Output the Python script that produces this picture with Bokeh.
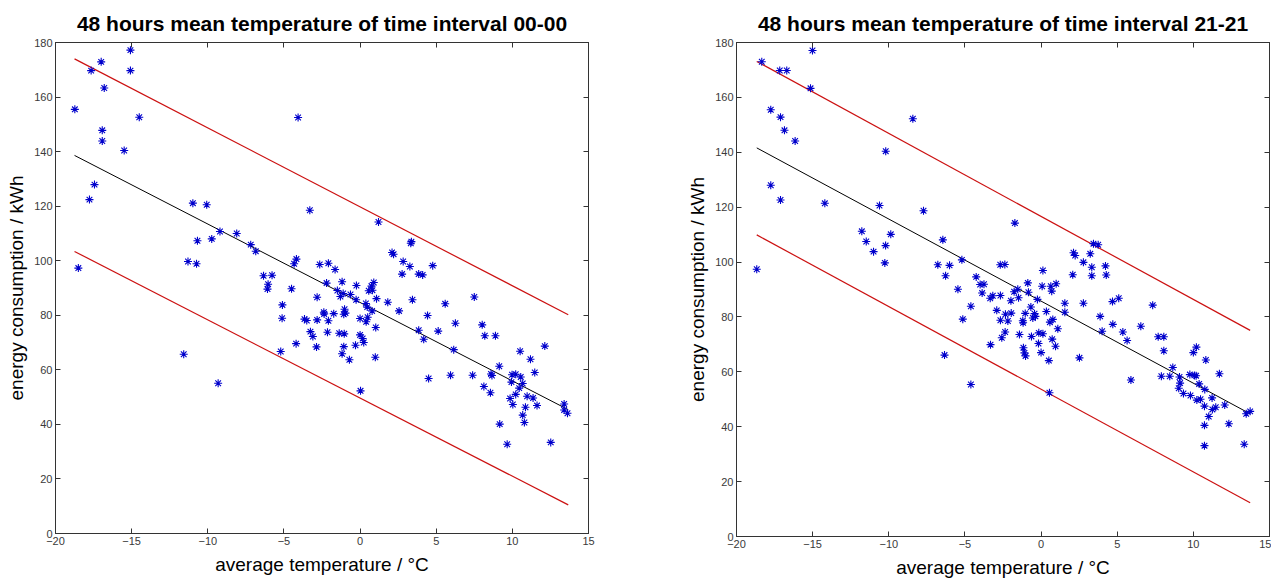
from bokeh.plotting import figure
from bokeh.models import LinearAxis, FixedTicker, Range1d
from bokeh.layouts import row
from bokeh.embed import file_html
from bokeh.resources import INLINE

# ---------------- data: 48 h mean temperature, interval 00-00 ----------------
temp_00 = [-18.73, -18.5, -17.66, -17.0, -16.8, -16.93, -16.93, -17.44, -17.77, -15.08,
           -15.08, -15.49, -14.5, -10.98, -10.07, -9.2, -8.1, -7.18, -6.85, -9.74,
           -10.68, -11.3, -10.74, -4.07, -3.3, -6.34, -5.78, -6.04, -6.08, -4.5,
           -4.33, -4.18, -2.65, -11.58, -9.32, -5.1, -5.12, -5.21, -4.2, -3.65,
           -3.5, -3.26, -3.1, -2.82, -2.82, -2.86, 1.21, 2.1, 2.2, 3.33,
           3.37, 2.83, 3.27, 2.76, 3.44, -2.08, -1.64, -2.2, -1.18, -0.24,
           0.9, 0.75, 0.81, 0.57, -1.49, -1.11, -1.29, -0.63, -0.26, 1.08,
           0.38, 0.47, 1.82, 0.79, 2.56, -2.38, -2.36, -1.73, -1.02, -0.96,
           -1.07, -2.08, 0.0, 0.5, 0.4, 1.03, -2.14, -1.37, -1.04, 0.0,
           0.17, 0.24, -1.07, -0.3, -1.18, -0.7, 1.0, 0.03, 3.85, 4.11,
           4.77, 4.43, 5.59, 7.5, 3.85, 4.18, 5.13, 6.26, 8.02, 8.19,
           8.89, 6.15, 4.5, 5.94, 7.39, 8.6, 8.66, 9.14, 8.13, 8.56,
           10.51, 11.19, 12.13, 11.47, 9.98, 10.22, 10.55, 9.94, 10.68, 10.45,
           10.22, 10.97, 11.36, 9.85, 10.03, 10.86, 11.62, 10.68, 10.79, 9.17,
           9.66, 12.52, 13.4, 13.4, 13.62]
energy_00 = [155.5, 97.3, 169.7, 172.9, 163.3, 147.8, 143.9, 127.9, 122.4, 177.2,
             169.7, 140.4, 152.6, 121.1, 120.5, 110.7, 110.0, 105.9, 103.5, 108.0,
             107.3, 99.7, 98.9, 152.5, 118.5, 94.5, 94.7, 91.4, 89.6, 89.7,
             98.9, 100.6, 98.6, 65.7, 55.1, 83.8, 78.9, 66.7, 69.6, 78.6,
             78.1, 74.0, 72.2, 78.3, 86.6, 68.4, 114.2, 103.0, 102.4, 106.4,
             107.0, 99.7, 97.9, 95.1, 85.7, 99.1, 96.8, 91.8, 92.3, 90.9,
             92.0, 90.7, 89.2, 89.0, 89.1, 88.0, 86.9, 87.6, 85.7, 86.1,
             84.3, 83.0, 84.8, 81.6, 81.6, 81.1, 80.5, 80.6, 82.2, 80.8,
             80.4, 78.0, 78.8, 79.3, 77.6, 75.5, 73.8, 73.4, 73.2, 72.8,
             71.5, 70.0, 68.5, 69.0, 65.9, 63.7, 64.6, 52.3, 95.1, 94.8,
             98.2, 79.9, 84.2, 86.7, 74.5, 71.2, 74.2, 77.1, 76.5, 72.5,
             72.5, 67.4, 56.8, 58.0, 58.0, 58.5, 57.9, 61.3, 53.9, 51.6,
             66.8, 63.9, 68.7, 59.0, 58.2, 58.4, 57.4, 55.5, 55.0, 53.3,
             51.0, 50.3, 49.7, 49.5, 47.3, 46.3, 46.9, 43.4, 40.7, 40.1,
             32.7, 33.4, 47.5, 45.3, 44.1]
fit_x_00 = [-18.75, 13.67]
fit_y_00 = [138.6, 45.4]
upper_y_00 = [174.0, 80.2]
lower_y_00 = [103.4, 10.5]

# ---------------- data: 48 h mean temperature, interval 21-21 ----------------
temp_21 = [-18.67, -18.34, -17.16, -16.7, -15.01, -15.14, -17.75, -17.11, -16.85, -16.15,
           -17.75, -17.11, -14.2, -8.42, -10.2, -10.61, -7.72, -11.77, -11.48, -11.0,
           -10.21, -9.87, -10.26, -6.45, -6.78, -6.01, -6.27, -5.2, -5.46, -4.26,
           -4.0, -3.75, -2.68, -6.34, -4.61, -4.61, -5.14, -3.32, -3.87, -3.34,
           -3.17, -2.67, -2.91, -2.67, -2.58, -1.72, -2.38, 0.12, -0.87, 0.07,
           0.64, 0.99, 0.7, -1.77, -1.53, -0.83, -1.48, -1.98, -0.24, 1.56,
           2.78, 2.08, 2.13, 2.24, 3.23, 2.78, 3.33, 3.33, -0.67, -2.34,
           -1.96, -1.04, -0.43, -0.37, 0.35, 1.56, -2.18, -1.2, -1.18, -0.54,
           0.58, 0.77, 1.1, -2.36, -1.42, -0.63, -0.15, 0.12, 0.73, -0.17,
           0.95, -1.16, -1.09, 0.0, -1.02, 0.51, 2.52, 0.55, 3.44, 3.75,
           4.23, 4.28, 4.69, 5.1, 3.88, 4.01, 4.71, 5.37, 5.65, 6.55,
           7.33, 7.69, 8.06, 8.06, 5.9, 7.9, 8.45, 8.65, 9.09, 9.13,
           9.04, 9.35, 9.81, 9.77, 10.07, 10.18, 10.0, 10.2, 10.82, 10.38,
           10.75, 10.23, 10.47, 10.73, 11.23, 11.25, 11.47, 11.71, 12.06, 11.01,
           10.73, 12.33, 10.73, 13.34, 13.47, 13.73]
energy_21 = [97.4, 173.0, 169.8, 169.8, 177.1, 163.3, 155.5, 152.8, 148.0, 144.1,
             128.0, 122.6, 121.4, 152.2, 140.4, 120.6, 118.7, 111.2, 107.5, 103.8,
             106.0, 110.1, 99.7, 108.1, 99.0, 98.8, 95.0, 100.8, 90.1, 94.6,
             91.8, 91.9, 99.0, 66.1, 55.4, 83.9, 79.2, 69.9, 88.7, 86.8,
             87.7, 87.8, 82.4, 78.8, 72.4, 114.2, 99.1, 96.9, 92.4, 91.2,
             91.2, 92.1, 89.4, 89.2, 90.1, 89.0, 87.0, 85.9, 86.4, 85.0,
             85.0, 95.4, 103.4, 102.4, 103.0, 99.9, 98.1, 95.0, 83.6, 81.0,
             81.4, 81.3, 81.2, 80.2, 82.0, 81.7, 78.5, 78.6, 77.9, 79.6,
             78.1, 79.1, 75.7, 74.5, 73.6, 72.9, 74.2, 73.9, 71.9, 70.3,
             69.3, 68.8, 66.9, 67.0, 65.8, 64.1, 65.1, 52.4, 106.7, 106.3,
             98.6, 95.3, 85.6, 86.8, 80.2, 74.8, 77.3, 74.5, 71.4, 76.6,
             84.3, 72.8, 72.8, 67.7, 57.0, 58.4, 58.4, 61.6, 58.1, 55.9,
             54.0, 52.1, 51.4, 59.0, 58.7, 58.6, 67.0, 69.0, 64.3, 55.6,
             53.6, 49.7, 50.0, 47.5, 50.5, 46.3, 47.1, 59.3, 47.9, 43.7,
             40.5, 41.1, 33.1, 33.6, 44.7, 45.6]
fit_x_21 = [-18.67, 13.73]
fit_y_21 = [141.6, 44.7]
upper_y_21 = [173.1, 75.1]
lower_y_21 = [109.9, 12.3]

x_ticks = [-20, -15, -10, -5, 0, 5, 10, 15]
y_ticks = [0, 20, 40, 60, 80, 100, 120, 140, 160, 180]
x_label = "average temperature / °C"
y_label = "energy consumption / kWh"

FONT = "Liberation Sans"
AX = "#333333"


def style_axis(ax, show_labels=True):
    ax.axis_line_color = AX
    ax.major_tick_line_color = AX
    ax.major_tick_in = 5
    ax.major_tick_out = 0
    ax.minor_tick_line_color = None
    ax.major_label_text_font = FONT
    ax.major_label_text_font_size = "11px"
    ax.major_label_text_color = "#3a3a3a" if show_labels else None
    ax.major_label_standoff = 3
    ax.axis_label_text_font = FONT
    ax.axis_label_text_font_size = "19px"
    ax.axis_label_text_font_style = "normal"
    ax.axis_label_text_color = "#000000"


def make_plot(title, xs, ys, fx, fy, uy, ly, fh, left, top, bottom, right, xstand):
    p = figure(frame_width=533, frame_height=fh,
               x_range=Range1d(-20, 15), y_range=Range1d(0, 180),
               output_backend="svg", toolbar_location=None,
               min_border_left=left, min_border_right=right,
               min_border_top=top, min_border_bottom=bottom,
               title=title)
    p.title.text_font = FONT
    p.title.text_font_size = "21px"
    p.title.text_font_style = "bold"
    p.title.align = "center"
    p.title.text_color = "#000000"
    p.title.standoff = 15
    p.xgrid.visible = False
    p.ygrid.visible = False
    p.outline_line_color = AX
    p.background_fill_color = "white"
    p.border_fill_color = "white"

    p.xaxis.ticker = FixedTicker(ticks=x_ticks)
    p.yaxis.ticker = FixedTicker(ticks=y_ticks)
    p.xaxis.axis_label = x_label
    p.yaxis.axis_label = y_label
    for ax in p.xaxis + p.yaxis:
        style_axis(ax)
    p.xaxis.axis_label_standoff = xstand
    p.yaxis.axis_label_standoff = 4

    top_ax = LinearAxis(ticker=FixedTicker(ticks=x_ticks))
    right_ax = LinearAxis(ticker=FixedTicker(ticks=y_ticks))
    style_axis(top_ax, False)
    style_axis(right_ax, False)
    top_ax.major_label_text_font_size = "1px"
    right_ax.major_label_text_font_size = "1px"
    top_ax.major_label_standoff = 0
    right_ax.major_label_standoff = 0
    p.add_layout(top_ax, "above")
    p.add_layout(right_ax, "right")

    p.line(fx, uy, line_color="#cc1111", line_width=1.2)
    p.line(fx, ly, line_color="#cc1111", line_width=1.2)
    p.line(fx, fy, line_color="#000000", line_width=1)
    p.scatter(xs, ys, marker="asterisk", size=8, line_color="#0000cc", line_width=1.1)
    return p


p1 = make_plot("48 hours mean temperature of time interval 00-00",
               temp_00, energy_00, fit_x_00, fit_y_00, upper_y_00, lower_y_00,
               491, 55, 41, 46, 96, 6)
p2 = make_plot("48 hours mean temperature of time interval 21-21",
               temp_21, energy_21, fit_x_21, fit_y_21, upper_y_21, lower_y_21,
               494, 47, 42, 42, 2, 6)

layout = row(p1, p2)
open("out.html", "w").write(file_html(layout, INLINE))
